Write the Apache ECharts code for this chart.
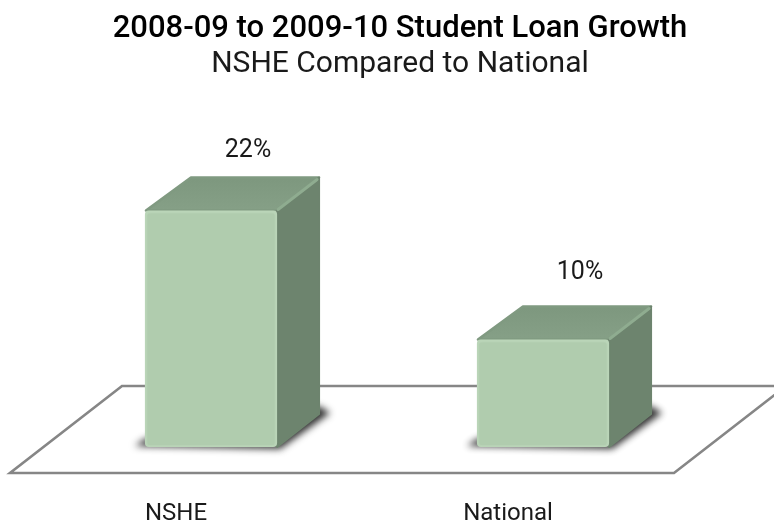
<!DOCTYPE html>
<html>
<head>
<meta charset="utf-8">
<style>html,body{margin:0;padding:0;background:#fff}#chart{width:774px;height:527px}</style>
<script src="https://cdn.jsdelivr.net/npm/echarts@6/dist/echarts.min.js"></script>
</head>
<body>
<div id="chart"></div>
<script>
const categories = ['NSHE', 'National'];
const growthPercent = [22, 10];
const titleText = '2008-09 to 2009-10 Student Loan Growth';
const subtitleText = 'NSHE Compared to National';

// Pseudo-3D projection: how far the floor recedes and where the bars stand on it.
const FLOOR_DX = 112, FLOOR_DY = 87;
const STAND_DX = 35, STAND_DY = 26;
const BOX_DX = 42, BOX_DY = 33;
const BAR_RATIO = 0.398;
const LABEL_FONT = 'Roboto, sans-serif';
// The soft floor shadow is cast from a shape parked off the canvas, so only its blur shows.
const SHADOW_PARK = 1500;

function renderFloor(params, api) {
  const c = params.coordSys;
  const l = c.x, r = c.x + c.width, b = c.y + c.height;
  return {
    type: 'polygon',
    shape: { points: [[l, b], [r, b], [r + FLOOR_DX, b - FLOOR_DY], [l + FLOOR_DX, b - FLOOR_DY]] },
    style: { fill: '#fff', stroke: '#868686', lineWidth: 2.6, lineJoin: 'miter' }
  };
}

function renderBar(params, api) {
  const base = api.coord([api.value(0), 0]);
  const top = api.coord([api.value(0), api.value(1)]);
  const w = api.size([1, 0])[0] * BAR_RATIO;
  const x0 = base[0] + STAND_DX - w / 2, x1 = x0 + w;
  const y0 = top[1] - STAND_DY, y1 = base[1] - STAND_DY;
  const dx = BOX_DX, dy = BOX_DY;
  const shadowPoints = [[x0 - 10, y1 - 1], [x1 + 3, y1 + 2], [x1 + dx + 11, y1 - dy - 1], [x1 + dx, y1 - dy - 8], [x0, y1 - 8]];
  return {
    type: 'group',
    children: [
      { // soft contact shadow on the floor
        type: 'polygon',
        shape: { points: shadowPoints.map(p => [p[0] - SHADOW_PARK, p[1]]) },
        style: { fill: '#000', shadowBlur: 7, shadowOffsetX: SHADOW_PARK, shadowColor: 'rgba(40,40,40,0.95)' }
      },
      { // top face
        type: 'polygon',
        shape: { points: [[x0 + 1, y0], [x0 + dx + 4, y0 - dy], [x1 + dx, y0 - dy], [x1, y0]] },
        style: {
          fill: new echarts.graphic.LinearGradient(0, 0, 0, 1, [
            { offset: 0, color: '#7d977e' }, { offset: 1, color: '#86a087' }
          ]),
          stroke: '#809a81', lineWidth: 2.5, lineJoin: 'round'
        }
      },
      { // right side
        type: 'polygon',
        shape: { points: [[x1, y0], [x1 + dx, y0 - dy], [x1 + dx, y1 - dy], [x1, y1]] },
        style: { fill: '#6d846e', stroke: '#6d846e', lineWidth: 2, lineJoin: 'round' }
      },
      { // bevel between top and side
        type: 'line',
        shape: { x1: x1 + 1, y1: y0 - 1, x2: x1 + dx - 2, y2: y0 - dy + 2 },
        style: { stroke: '#8fac90', lineWidth: 3, lineCap: 'round' }
      },
      { // front face: lighter bevel rim with the flat panel inset
        type: 'rect',
        shape: { x: x0, y: y0, width: w, height: y1 - y0, r: 4 },
        style: { fill: '#bbd6b9' }
      },
      {
        type: 'rect',
        shape: { x: x0 + 2.5, y: y0 + 3, width: w - 5, height: y1 - y0 - 5, r: 2 },
        style: { fill: '#b0ccae', shadowBlur: 3, shadowColor: '#b0ccae' }
      }
    ]
  };
}

// Percent labels float above the back edge of each box.
function renderValueLabel(params, api) {
  const idx = api.value(0), val = api.value(1);
  const top = api.coord([idx, val]);
  const lift = params.dataIndex === 0 ? 60 : 67;
  return {
    type: 'text',
    style: {
      x: top[0] + STAND_DX + 37,
      y: top[1] - STAND_DY - lift,
      text: val + '%',
      fill: '#1a1a1a',
      font: '400 25px ' + LABEL_FONT,
      textAlign: 'center',
      textVerticalAlign: 'middle'
    }
  };
}

const seriesData = categories.map((c, i) => [i, growthPercent[i]]);

const chart = echarts.init(document.getElementById('chart'), null, { renderer: 'canvas' });
chart.setOption({
  animation: false,
  backgroundColor: '#fff',
  title: {
    text: titleText,
    subtext: subtitleText,
    left: 395,
    top: 9,
    textAlign: 'center',
    itemGap: 4,
    textStyle: { fontFamily: 'Roboto, sans-serif', fontWeight: 500, fontSize: 31, color: '#000' },
    subtextStyle: { fontFamily: LABEL_FONT, fontWeight: 400, fontSize: 30, color: '#1a1a1a' }
  },
  grid: { left: 10, width: 664, top: 150.5, height: 322.5 },
  xAxis: {
    type: 'category',
    data: categories,
    axisLine: { show: false },
    axisTick: { show: false },
    axisLabel: { margin: 29, fontFamily: LABEL_FONT, fontSize: 24, color: '#1a1a1a' }
  },
  yAxis: { type: 'value', min: 0, max: 30, show: false, splitLine: { show: false } },
  series: [
    { type: 'custom', z: 1, clip: false, silent: true, renderItem: renderFloor, data: [[0, 0]] },
    { type: 'custom', z: 2, clip: false, silent: true, renderItem: renderBar, data: seriesData },
    { type: 'custom', z: 3, clip: false, silent: true, renderItem: renderValueLabel, data: seriesData }
  ]
});
</script>
</body>
</html>
